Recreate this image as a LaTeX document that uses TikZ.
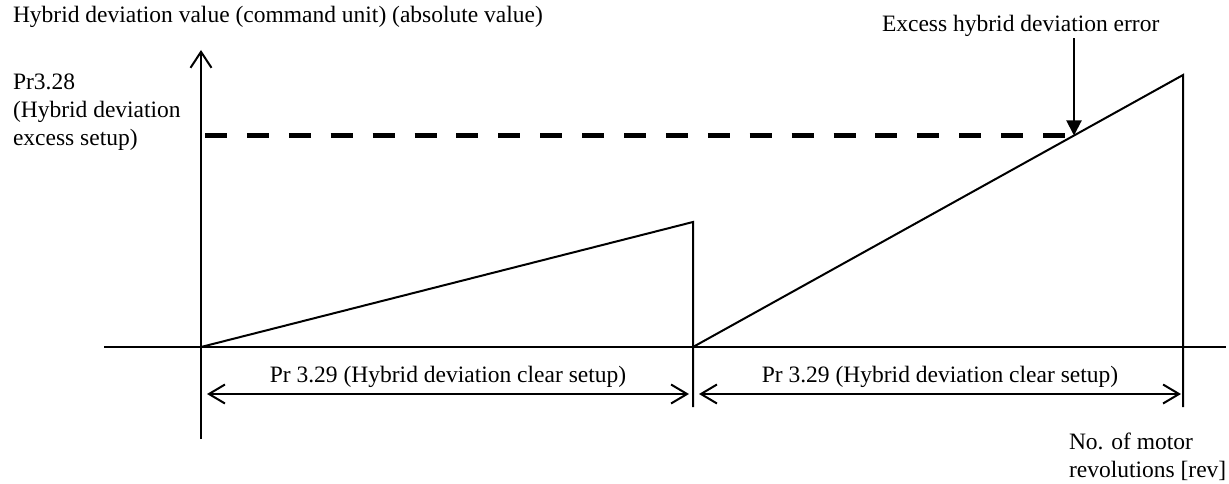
\documentclass[tikz,border=0pt]{standalone}
\usepackage{fontspec}
\setmainfont{Liberation Serif}
\usetikzlibrary{arrows.meta}

\begin{document}
\begin{tikzpicture}[x=1pt,y=1pt,line width=2pt,
  every node/.style={inner sep=0pt,font=\fontsize{23.5}{28}\selectfont},
  barb/.style={-{Straight Barb[length=16pt,width=21pt]}},
  dimline/.style={{Straight Barb[length=16pt,width=19pt]}-{Straight Barb[length=16pt,width=19pt]}},
  level/.style={line width=5pt,dash pattern=on 22pt off 19.9pt}]
\useasboundingbox (0,0) rectangle (1229,-484);
% axes
\coordinate (o) at (201,-347);
\coordinate (ybot) at (201,-439);
\coordinate (ytop) at (201,-50);
\coordinate (xl) at (104,-347);
\coordinate (xr) at (1226,-347);
\draw (xl) -- (xr);
\draw [barb] (ybot) -- (ytop);
\node [anchor=base west] (ylab) at (12,-23) {Hybrid deviation value (command unit) (absolute value)};
\node [anchor=north west,align=left] (xlab) at (1068,-432) {No. of motor\\revolutions [rev]};
% threshold level
\node [anchor=north west,align=left] (thr) at (12,-73) {Pr3.28\\(Hybrid deviation\\excess setup)};
\coordinate (lvla) at (205,-136);
\coordinate (lvlb) at (1065,-136);
\draw [level] (lvla) -- (lvlb);
% sawtooth
\coordinate (p1) at (693,-222);
\coordinate (c1) at (693,-407);
\coordinate (s2) at (693,-347);
\coordinate (p2) at (1183,-75);
\coordinate (c2) at (1183,-407);
\draw (o) -- (p1) -- (c1);
\draw (s2) -- (p2) -- (c2);
% error point
\coordinate (hit) at (1074,-135.5);
\node [anchor=base west] (exc) at (881,-32) {Excess hybrid deviation error};
\draw [-{Triangle[length=15pt,width=15pt]}] (exc.south -| hit) -- (hit);
% clear periods
\coordinate (d1a) at (207,-394);
\coordinate (d1b) at (689,-394);
\coordinate (d2a) at (699,-394);
\coordinate (d2b) at (1181,-394);
\draw [dimline] (d1a) -- node [midway,above=5pt] (clr1) {Pr 3.29 (Hybrid deviation clear setup)} (d1b);
\draw [dimline] (d2a) -- node [midway,above=5pt] (clr2) {Pr 3.29 (Hybrid deviation clear setup)} (d2b);
\end{tikzpicture}
\end{document}
